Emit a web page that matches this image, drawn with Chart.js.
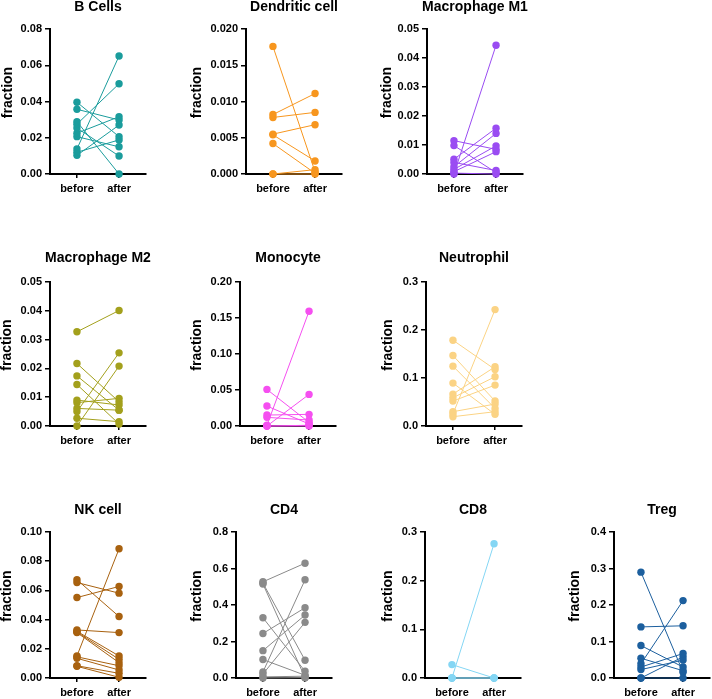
<!DOCTYPE html>
<html>
<head>
<meta charset="utf-8">
<script src="https://cdn.jsdelivr.net/npm/chart.js@4.4.1/dist/chart.umd.min.js"></script>
<style>
  html, body { margin: 0; padding: 0; background: #fff; overflow: hidden; }
  #wrap { position: relative; width: 712px; height: 699px; overflow: hidden; }
  #wrap canvas { position: absolute; }
</style>
</head>
<body>
<div id="wrap"></div>
<script>
'use strict';

/* ── paired values: before[i] is joined to after[i] ── */
const CATEGORIES = ['before', 'after'];

const bCellsBefore = [0.0396, 0.0357, 0.0289, 0.0275, 0.0254, 0.0225, 0.0206, 0.0138, 0.0120, 0.0103];
const bCellsAfter  = [0.0206, 0.0298, 0.0000, 0.0498, 0.0099, 0.0316, 0.0150, 0.0651, 0.0188, 0.0270];

const dendriticBefore = [0.0176, 0.0082, 0.0078, 0.0055, 0.0054, 0.0042, 0.0000, 0.0000];
const dendriticAfter  = [0.0003, 0.0111, 0.0085, 0.0068, 0.0018, 0.0001, 0.0006, 0.0000];

const m1Before = [0.0115, 0.0098, 0.0051, 0.0040, 0.0025, 0.0016, 0.0008, 0.0003, 0.0000];
const m1After  = [0.0085, 0.0005, 0.0158, 0.0012, 0.0140, 0.0097, 0.0077, 0.0000, 0.0444];

const m2Before = [0.0327, 0.0217, 0.0174, 0.0144, 0.0090, 0.0081, 0.0061, 0.0050, 0.0027, 0.0000];
const m2After  = [0.0401, 0.0084, 0.0055, 0.0007, 0.0073, 0.0096, 0.0055, 0.0254, 0.0015, 0.0208];

const monoBefore = [0.0508, 0.0277, 0.0152, 0.0120, 0.0010, 0.0000, 0.0000, 0.0000];
const monoAfter  = [0.0050, 0.0028, 0.0162, 0.0083, 0.1594, 0.0439, 0.0000, 0.0010];

const neutroBefore = [0.1788, 0.1469, 0.1247, 0.0894, 0.0665, 0.0589, 0.0520, 0.0298, 0.0250, 0.0194];
const neutroAfter  = [0.1178, 0.0520, 0.0367, 0.0243, 0.1233, 0.1026, 0.0852, 0.0457, 0.2425, 0.0298];

const nkBefore = [0.0673, 0.0654, 0.0551, 0.0329, 0.0320, 0.0315, 0.0311, 0.0151, 0.0145, 0.0135, 0.0084, 0.0080];
const nkAfter  = [0.0421, 0.0581, 0.0627, 0.0311, 0.0151, 0.0128, 0.0105, 0.0885, 0.0084, 0.0055, 0.0032, 0.0005];

const cd4Before = [0.527, 0.520, 0.515, 0.330, 0.244, 0.150, 0.101, 0.033, 0.022, 0.006, 0.000];
const cd4After  = [0.629, 0.097, 0.002, 0.037, 0.385, 0.345, 0.015, 0.538, 0.305, 0.010, 0.002];

const cd8Before = [0.0275, 0.0000, 0.0000, 0.0000];
const cd8After  = [0.0000, 0.2760, 0.0000, 0.0000];

const tregBefore = [0.290, 0.140, 0.089, 0.054, 0.039, 0.030, 0.023, 0.000, 0.000];
const tregAfter  = [0.016, 0.143, 0.030, 0.020, 0.212, 0.067, 0.049, 0.058, 0.000];

/* ── panel layout ──
   areaTop = pixel of the plot top, axisX = pixel of the y axis line,
   yt = distance from axis to the "fraction" label */
const ROWS = [
    { areaTop: 29,  area: 145, xh: 30, titleGap: 22 },
    { areaTop: 282, area: 144, xh: 30, titleGap: 24 },
    { areaTop: 532, area: 146, xh: 21, titleGap: 22 },
];
const PLOT_W = 96;
const PAD_TOP = 40;
const PAD_RIGHT = 14;
const FONT = "'Liberation Sans', Arial, Helvetica, sans-serif";

const PANELS = [
    { title: 'B Cells',        before: bCellsBefore,    after: bCellsAfter,    color: '#1a9c9c', max: 0.08,  step: 0.02,  dec: 2, row: 0, axisX: 50,  yt: 42 },
    { title: 'Dendritic cell', before: dendriticBefore, after: dendriticAfter, color: '#f7961e', max: 0.020, step: 0.005, dec: 3, row: 0, axisX: 246, yt: 49 },
    { title: 'Macrophage M1',  before: m1Before,        after: m1After,        color: '#9a4cf2', max: 0.05,  step: 0.01,  dec: 2, row: 0, axisX: 427, yt: 40 },
    { title: 'Macrophage M2',  before: m2Before,        after: m2After,        color: '#a3a01c', max: 0.05,  step: 0.01,  dec: 2, row: 1, axisX: 50,  yt: 43 },
    { title: 'Monocyte',       before: monoBefore,      after: monoAfter,      color: '#f54ff0', max: 0.20,  step: 0.05,  dec: 2, row: 1, axisX: 240, yt: 43 },
    { title: 'Neutrophil',     before: neutroBefore,    after: neutroAfter,    color: '#fbd384', max: 0.3,   step: 0.1,   dec: 1, row: 1, axisX: 426, yt: 38 },
    { title: 'NK cell',        before: nkBefore,        after: nkAfter,        color: '#a8610f', max: 0.10,  step: 0.02,  dec: 2, row: 2, axisX: 50,  yt: 43 },
    { title: 'CD4',            before: cd4Before,       after: cd4After,       color: '#8a8a8a', max: 0.8,   step: 0.2,   dec: 1, row: 2, axisX: 236, yt: 39 },
    { title: 'CD8',            before: cd8Before,       after: cd8After,       color: '#84d6f4', max: 0.3,   step: 0.1,   dec: 1, row: 2, axisX: 425, yt: 37 },
    { title: 'Treg',           before: tregBefore,      after: tregAfter,      color: '#1c5f9e', max: 0.4,   step: 0.1,   dec: 1, row: 2, axisX: 614, yt: 39 },
];

Chart.defaults.font.family = FONT;
Chart.defaults.color = '#000';

// panel title above the plot and the rotated "fraction" label, drawn at full width
const panelText = {
    id: 'panelText',
    afterDraw(chart, args, opts) {
        const { ctx, chartArea: a } = chart;
        ctx.save();
        ctx.fillStyle = '#000';
        ctx.font = 'bold 14px ' + FONT;
        ctx.textAlign = 'center';
        ctx.textBaseline = 'middle';
        ctx.fillText(opts.title, (a.left + a.right) / 2, a.top - opts.titleGap);
        ctx.translate(a.left - opts.yt, (a.top + a.bottom) / 2 - 9);
        ctx.rotate(-Math.PI / 2);
        ctx.fillText('fraction', 0, 0);
        ctx.restore();
    },
};

function axisGrid(len) {
    return { display: true, drawOnChartArea: false, drawTicks: true, tickLength: len, color: '#000', lineWidth: 1.5 };
}

function buildPanel(p) {
    const row = ROWS[p.row];
    const yw = p.yt + 10;
    const canvas = document.createElement('canvas');
    const w = yw + PLOT_W + PAD_RIGHT;
    const h = PAD_TOP + row.area + row.xh;
    canvas.width = w;
    canvas.height = h;
    canvas.style.left = (p.axisX - yw) + 'px';
    canvas.style.top = (row.areaTop - PAD_TOP) + 'px';
    canvas.style.width = w + 'px';
    canvas.style.height = h + 'px';
    document.getElementById('wrap').appendChild(canvas);

    const datasets = p.before.map((b, i) => ({
        data: [{ x: 0, y: b }, { x: 1, y: p.after[i] }],
        showLine: true,
        borderColor: p.color,
        borderWidth: 1,
        backgroundColor: p.color,
        pointBackgroundColor: p.color,
        pointBorderWidth: 0,
        pointRadius: 3.7,
        pointHoverRadius: 3.7,
        clip: false,
    }));

    new Chart(canvas.getContext('2d'), {
        type: 'scatter',
        data: { datasets },
        plugins: [panelText],
        options: {
            responsive: false,
            animation: false,
            devicePixelRatio: 1,
            layout: { padding: { top: PAD_TOP, right: PAD_RIGHT, left: 0, bottom: 0 } },
            plugins: {
                legend: { display: false },
                tooltip: { enabled: false },
                title: { display: false },
                panelText: { title: p.title, titleGap: row.titleGap, yt: p.yt },
            },
            scales: {
                x: {
                    type: 'linear',
                    min: -0.64,
                    max: 1.64,
                    afterBuildTicks: s => { s.ticks = [{ value: 0 }, { value: 1 }]; },
                    afterFit: s => { s.height = row.xh; },
                    ticks: {
                        callback: v => CATEGORIES[v] || '',
                        font: { size: 11, weight: 'bold' },
                        color: '#000',
                        padding: 4,
                        maxRotation: 0,
                        autoSkip: false,
                    },
                    grid: axisGrid(4),
                    border: { display: true, color: '#000', width: 2 },
                },
                y: {
                    min: 0,
                    max: p.max,
                    afterFit: s => { s.width = yw; },
                    ticks: {
                        stepSize: p.step,
                        callback: v => v.toFixed(p.dec),
                        font: { size: 11, weight: 'bold' },
                        color: '#000',
                        padding: 3,
                    },
                    grid: axisGrid(5),
                    border: { display: true, color: '#000', width: 2 },
                    title: { display: false },
                },
            },
        },
    });
}

PANELS.forEach(buildPanel);
</script>
</body>
</html>
